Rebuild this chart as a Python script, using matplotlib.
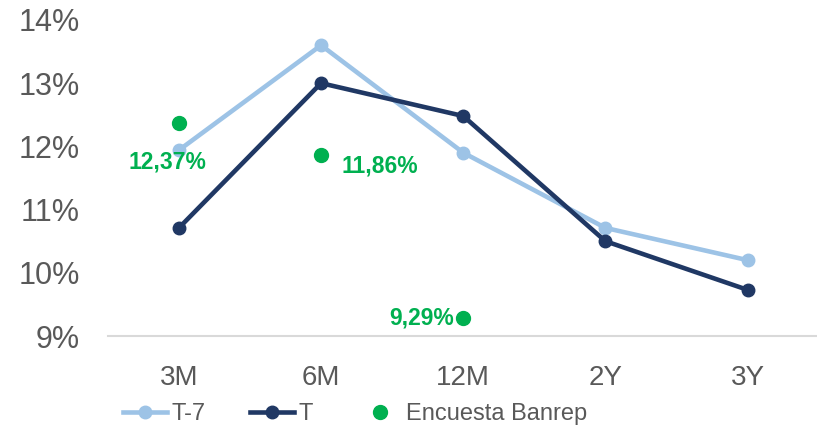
import matplotlib.pyplot as plt

# Data
plazos = ['3M', '6M', '12M', '2Y', '3Y']
t_menos_7 = [11.94, 13.60, 11.90, 10.71, 10.20]
t_actual = [10.71, 13.00, 12.48, 10.50, 9.73]
encuesta_idx = [0, 1, 2]
encuesta = [12.37, 11.86, 9.29]
encuesta_labels = ['12,37%', '11,86%', '9,29%']
y_ticks = [9, 10, 11, 12, 13, 14]

plt.rcParams['font.family'] = ['Liberation Sans', 'DejaVu Sans']

fig = plt.figure(figsize=(8.17, 4.30), dpi=100)
ax = fig.add_axes([0.132, 0.2186, 0.87, 0.735])

x = list(range(len(plazos)))
ax.plot(x, t_menos_7, color='#9DC3E6', lw=3.3, marker='o', ms=9, label='T-7', zorder=2)
ax.plot(x, t_actual, color='#203864', lw=3.3, marker='o', ms=9, label='T', zorder=3)
ax.plot(encuesta_idx, encuesta, ls='none', marker='o', ms=10, color='#00B050',
        label='Encuesta Banrep', zorder=4)

# etiquetas de datos (offsets en puntos)
offsets = [(-8, -28), (15, -8), (-7, 0)]
aligns = [('center', 'center'), ('left', 'center'), ('right', 'center')]
for i, v, lab, off, al in zip(encuesta_idx, encuesta, encuesta_labels, offsets, aligns):
    ax.annotate(lab, (i, v), xytext=off, textcoords='offset points',
                ha=al[0], va=al[1], color='#00B050', fontsize=16.5, fontweight='bold')

ax.set_xlim(-0.5, 4.5)
ax.set_ylim(9, 14)
ax.set_xticks(x)
ax.set_xticklabels(plazos)
ax.set_yticks(y_ticks)
ax.set_yticklabels([f'{t}%' for t in y_ticks])
ax.tick_params(axis='both', length=0, colors='#595959')
ax.tick_params(axis='x', labelsize=20, pad=21)
ax.tick_params(axis='y', labelsize=22, pad=20)

for s in ['top', 'right', 'left']:
    ax.spines[s].set_visible(False)
ax.spines['bottom'].set_color('#D9D9D9')
ax.spines['bottom'].set_linewidth(1.5)

fig.legend(loc='lower left', bbox_to_anchor=(0.1506, 0.012), ncol=3, frameon=False,
           fontsize=17, handlelength=1.85, handletextpad=0.2, columnspacing=1.9,
           borderpad=0, borderaxespad=0, labelcolor='#595959')

fig.savefig('out.png', dpi=100)
